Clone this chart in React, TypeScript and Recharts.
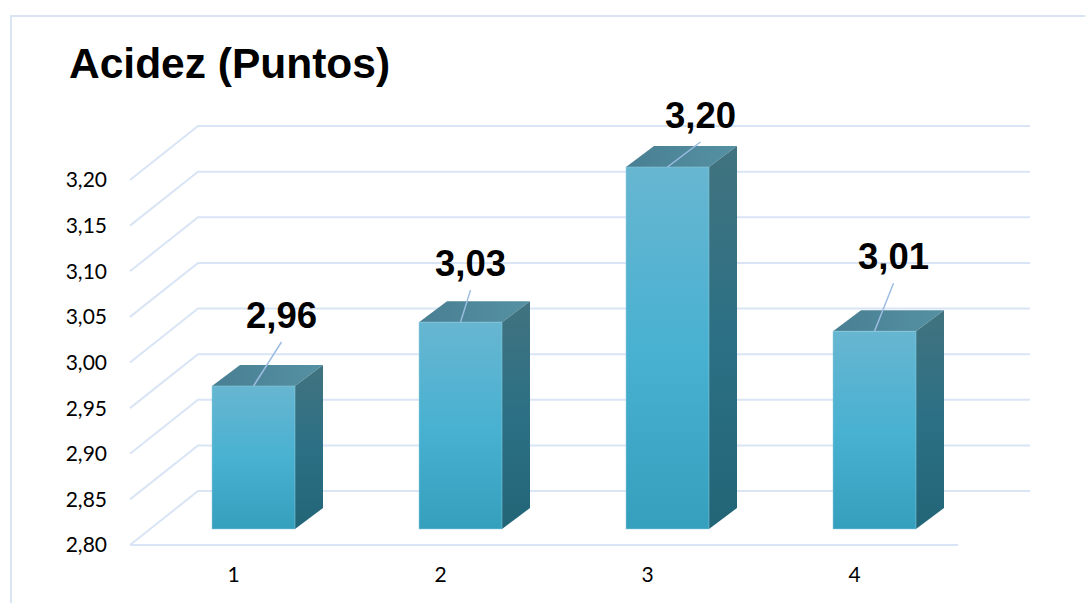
import { Bar, BarChart, LabelList, ReferenceLine, XAxis, YAxis } from "recharts";

const categories = ["1", "2", "3", "4"];
// bar heights as drawn; the printed label of the last bar says 3,01
const barValues = [2.96, 3.03, 3.2, 3.02];
const barLabels = ["2,96", "3,03", "3,20", "3,01"];
const yTicks = [2.8, 2.85, 2.9, 2.95, 3.0, 3.05, 3.1, 3.15, 3.2];

const data = categories.map((name, i) => ({
  name,
  value: barValues[i],
  label: barLabels[i],
}));

const GRID = "#d9e5f5";
const WALL_DX = 68;
const WALL_DY = -54;
const WALL_EXTRA = 72;
const BAR_SHIFT = 20;
const BAR_LIFT = 13;
const BASE_LIFT = 16;
const DEPTH_X = 28;
const DEPTH_Y = -21;
// leader line ends, relative to the middle of each bar's top edge
const leaders = [
  [28, -44],
  [10, -32],
  [33, -25],
  [19, -48],
];

function GridShape({ x1, y1, x2, y2, floor }: any) {
  const wallLeft = x1 + WALL_DX;
  const wallY = y1 + WALL_DY;
  return (
    <g fill="none" stroke={GRID} strokeWidth={2}>
      <polyline
        points={`${x1},${y1} ${wallLeft},${wallY} ${x2 + WALL_EXTRA},${wallY}`}
      />
      {floor && <line x1={x1} y1={y1} x2={x2} y2={y2} />}
    </g>
  );
}

function Box({ x, y, width, height }: any) {
  const left = x + BAR_SHIFT;
  const right = left + width;
  const top = y - BAR_LIFT;
  const bottom = y + height - BASE_LIFT;
  return (
    <g>
      <polygon
        points={`${left},${top} ${right},${top} ${right + DEPTH_X},${top + DEPTH_Y} ${left + DEPTH_X},${top + DEPTH_Y}`}
        fill="url(#topFace)"
      />
      <polygon
        points={`${right},${top} ${right + DEPTH_X},${top + DEPTH_Y} ${right + DEPTH_X},${bottom + DEPTH_Y} ${right},${bottom}`}
        fill="url(#sideFace)"
      />
      <rect
        x={left}
        y={top}
        width={width}
        height={bottom - top}
        fill="url(#frontFace)"
        stroke="#8fd0e2"
        strokeOpacity={0.5}
        strokeWidth={1}
      />
    </g>
  );
}

function BarLabel({ x, y, width, index, value }: any) {
  const startX = x + BAR_SHIFT + width / 2;
  const startY = y - BAR_LIFT;
  const [dx, dy] = leaders[index];
  return (
    <g>
      <line
        x1={startX}
        y1={startY}
        x2={startX + dx}
        y2={startY + dy}
        stroke="#9dbde3"
        strokeWidth={1.5}
      />
      <text
        x={startX + dx}
        y={startY + dy - 14}
        textAnchor="middle"
        fontFamily="'Liberation Sans', Arial, sans-serif"
        fontWeight="bold"
        fontSize={36.5}
        fill="#000"
      >
        {value}
      </text>
    </g>
  );
}

export default function App() {
  return (
    <div
      style={{
        position: "absolute",
        left: 0,
        top: 0,
        width: 1085,
        height: 603,
        background: "#fff",
        overflow: "hidden",
      }}
    >
      <div
        style={{
          position: "absolute",
          left: 10,
          top: 15,
          width: 1085,
          height: 603,
          borderTop: `2px solid ${GRID}`,
          borderLeft: `2px solid ${GRID}`,
        }}
      />
      <div
        style={{
          position: "absolute",
          left: 69,
          top: 39,
          fontFamily: "'Liberation Sans', Arial, sans-serif",
          fontWeight: "bold",
          fontSize: 42.5,
          lineHeight: "49px",
          color: "#000",
          whiteSpace: "nowrap",
        }}
      >
        Acidez (Puntos)
      </div>
      <div style={{ position: "absolute", left: 0, top: 0 }}>
        <BarChart
          width={1085}
          height={603}
          data={data}
          margin={{ top: 180, right: 127, bottom: 28, left: 70 }}
          style={{ overflow: "visible" }}
        >
          <defs>
            <linearGradient id="frontFace" x1="0" y1="0" x2="0" y2="1">
              <stop offset="0" stopColor="#67b6d1" />
              <stop offset="0.5" stopColor="#49b1d1" />
              <stop offset="1" stopColor="#359fbe" />
            </linearGradient>
            <linearGradient id="sideFace" x1="0" y1="0" x2="0" y2="1">
              <stop offset="0" stopColor="#41737f" />
              <stop offset="0.5" stopColor="#2c7085" />
              <stop offset="1" stopColor="#226577" />
            </linearGradient>
            <linearGradient id="topFace" x1="0" y1="0" x2="1" y2="0">
              <stop offset="0" stopColor="#497f92" />
              <stop offset="1" stopColor="#5591a3" />
            </linearGradient>
          </defs>
          <XAxis
            dataKey="name"
            axisLine={false}
            tickLine={false}
            tickMargin={16}
            tick={{ fontFamily: "Lato", fontSize: 21, fill: "#000" }}
          />
          <YAxis
            width={60}
            domain={[2.8, 3.2]}
            ticks={yTicks}
            interval={0}
            axisLine={false}
            tickLine={false}
            tickMargin={17}
            tickFormatter={(v: number) => v.toFixed(2).replace(".", ",")}
            tick={{ fontFamily: "Lato", fontSize: 21, fill: "#000" }}
          />
          {yTicks.map((t, i) => (
            <ReferenceLine
              key={t}
              y={t}
              ifOverflow="visible"
              zIndex={0}
              shape={(p: any) => <GridShape {...p} floor={i === 0} />}
            />
          ))}
          <Bar
            dataKey="value"
            barSize={83}
            isAnimationActive={false}
            shape={(p: any) => <Box {...p} />}
          >
            <LabelList
              dataKey="label"
              content={(p: any) => <BarLabel {...p} />}
            />
          </Bar>
        </BarChart>
      </div>
    </div>
  );
}
